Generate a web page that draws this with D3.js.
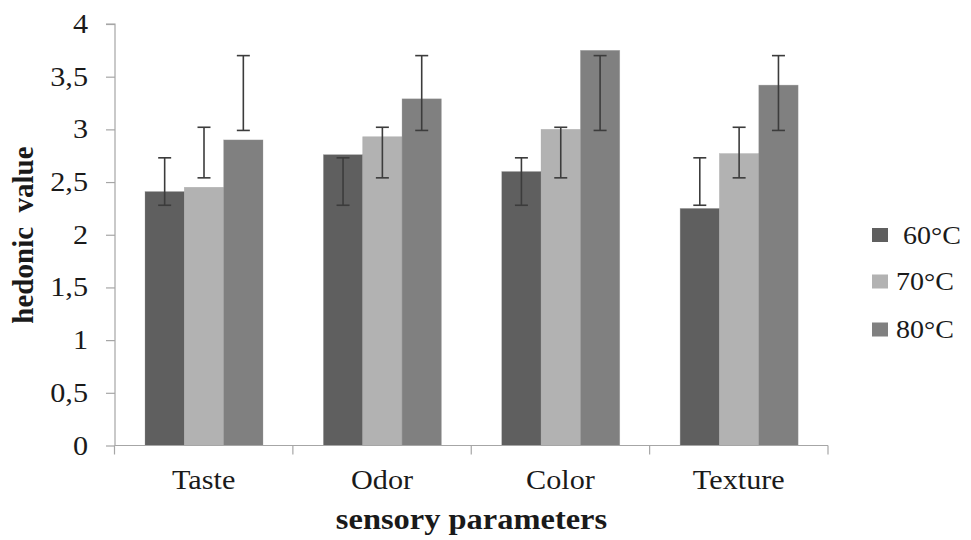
<!DOCTYPE html>
<html>
<head>
<meta charset="utf-8">
<script src="https://cdn.jsdelivr.net/npm/d3@7"></script>
<style>
  html, body { margin: 0; padding: 0; background: #fff; }
  svg { display: block; }
  text { font-family: "Liberation Serif", "Times New Roman", serif; fill: #1a1a1a; }
</style>
</head>
<body>
<svg id="chart" width="971" height="540"></svg>
<script>
const categories = ["Taste", "Odor", "Color", "Texture"];
const seriesNames = [" 60°C", "70°C", "80°C"];
const values60 = [2.41, 2.76, 2.60, 2.25];
const values70 = [2.45, 2.93, 3.00, 2.77];
const values80 = [2.90, 3.29, 3.75, 3.42];
// error bar extents (low, high) per series
const errLow = [2.28, 2.54, 2.99];
const errHigh = [2.73, 3.02, 3.70];
const yTicks = [0, 0.5, 1, 1.5, 2, 2.5, 3, 3.5, 4];
const yTickLabels = ["0", "0,5", "1", "1,5", "2", "2,5", "3", "3,5", "4"];
const seriesColors = ["#5f5f5f", "#b2b2b2", "#808080"];

const seriesValues = [values60, values70, values80];
const stretch = 1.12;

const svg = d3.select("#chart");
const y = d3.scaleLinear().domain([0, 4]).range([445.5, 24]);
const x0 = d3.scaleBand().domain(categories).range([114.5, 828]).paddingInner(0).paddingOuter(0);
const x1 = d3.scaleBand().domain(d3.range(3)).range([30.5, 148.5]).padding(0);

const axisColor = "#a6a6a6";

function sText(parent, x, yy, str, size, anchor, weight) {
  return parent.append("text")
    .attr("transform", `translate(${x},${yy}) scale(${stretch},1)`)
    .attr("text-anchor", anchor)
    .attr("font-size", size)
    .attr("font-weight", weight || "normal")
    .attr("xml:space", "preserve")
    .style("white-space", "pre")
    .text(str);
}

// Bars
categories.forEach((cat, ci) => {
  const g = svg.append("g").attr("transform", `translate(${x0(cat)},0)`);
  seriesValues.forEach((vals, si) => {
    g.append("rect")
      .attr("x", x1(si))
      .attr("y", y(vals[ci]))
      .attr("width", x1.bandwidth())
      .attr("height", y(0) - y(vals[ci]))
      .attr("fill", seriesColors[si])
      .attr("stroke", "#9a9a9a")
      .attr("stroke-width", 0.6)
      .attr("stroke-opacity", 0.5);
  });
  seriesValues.forEach((vals, si) => {
    const cx = x1(si) + x1.bandwidth() / 2;
    const eg = g.append("g").attr("stroke", "#3c3c3c").attr("stroke-width", 1.6);
    eg.append("line").attr("x1", cx).attr("x2", cx).attr("y1", y(errLow[si])).attr("y2", y(errHigh[si]));
    eg.append("line").attr("x1", cx - 6.5).attr("x2", cx + 6.5).attr("y1", y(errLow[si])).attr("y2", y(errLow[si]));
    eg.append("line").attr("x1", cx - 6.5).attr("x2", cx + 6.5).attr("y1", y(errHigh[si])).attr("y2", y(errHigh[si]));
  });
});

// Y axis
const yAxis = d3.axisLeft(y).tickValues(yTicks).tickFormat("").tickSize(9);
const yG = svg.append("g").attr("transform", "translate(115,0)").call(yAxis);
yG.select(".domain").attr("stroke", axisColor).attr("stroke-width", 1.2).attr("d", `M-9,${y(4)}H0V${y(0)}`);
yG.selectAll(".tick line").attr("stroke", axisColor).attr("stroke-width", 1.2);
yTicks.forEach((t, i) => {
  sText(svg, 88, y(t) + 9, yTickLabels[i], 27, "end");
});

// X axis
const xG = svg.append("g").attr("transform", `translate(0,${y(0)})`);
xG.append("line").attr("x1", 114.5).attr("x2", 828).attr("y1", 0).attr("y2", 0).attr("stroke", axisColor).attr("stroke-width", 1.2);
const boundaries = categories.map(c => x0(c)).concat([x0(categories[categories.length - 1]) + x0.bandwidth()]);
xG.selectAll("line.tk").data(boundaries).enter().append("line")
  .attr("class", "tk")
  .attr("x1", d => d).attr("x2", d => d).attr("y1", 0).attr("y2", 9)
  .attr("stroke", axisColor).attr("stroke-width", 1.2);
categories.forEach(c => {
  sText(xG, x0(c) + x0.bandwidth() / 2, 43.5, c, 27, "middle");
});

// Axis titles
svg.append("text")
  .attr("transform", "translate(33,235) rotate(-90)")
  .attr("text-anchor", "middle")
  .attr("font-size", 29)
  .attr("font-weight", "bold")
  .attr("xml:space", "preserve")
  .style("white-space", "pre")
  .text("hedonic  value");

sText(svg, 471.5, 529, "sensory parameters", 29, "middle", "bold");

// Legend
const legendY = [235, 281.5, 329.5];
const lg = svg.append("g");
seriesNames.forEach((name, i) => {
  lg.append("rect")
    .attr("x", 872).attr("y", legendY[i] - 7)
    .attr("width", 16).attr("height", 14)
    .attr("fill", seriesColors[i]);
  sText(lg, 896, legendY[i] + 8.5, name, 25, "start");
});
</script>
</body>
</html>
